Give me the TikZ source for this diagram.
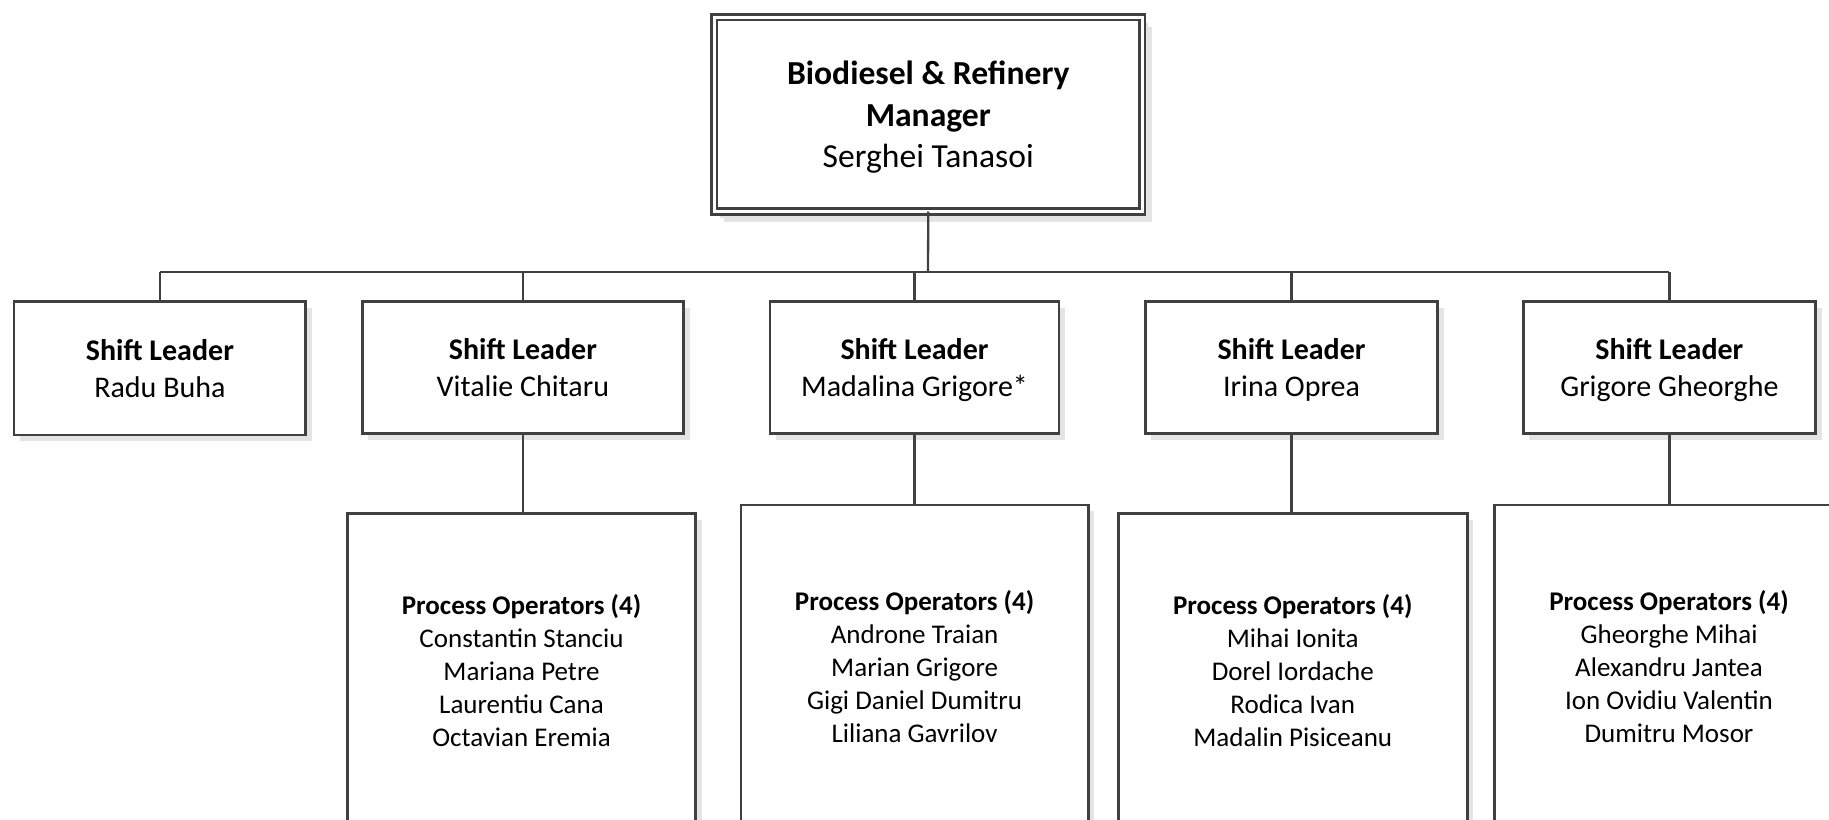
\documentclass[tikz,border=0pt]{standalone}
\usepackage{fontspec}
\setmainfont{Carlito}
\usetikzlibrary{shadows}
\definecolor{edge}{HTML}{404040}
\definecolor{shade}{HTML}{E4E4E4}

\begin{document}
\begin{tikzpicture}[x=0.5pt,y=-0.5pt,
  box/.style={draw=edge, line width=1.3pt, fill=white, align=center,
    inner sep=0pt, outer sep=0pt, text depth=0pt,
    general shadow={fill=shade, shadow xshift=3pt, shadow yshift=-3pt}},
  headbox/.style={box, double=white, double distance=1.4pt, line width=1.35pt,
    general shadow={fill=shade, shadow xshift=5pt, shadow yshift=-5pt},
    font=\fontsize{16.8pt}{20.75pt}\selectfont},
  leadbox/.style={box, minimum height=65.9pt,
    font=\fontsize{15pt}{18.75pt}\selectfont},
  crewbox/.style={box, font=\fontsize{13.5pt}{16.5pt}\selectfont},
  conn/.style={draw=edge, line width=1.15pt}]

\useasboundingbox (0,0) rectangle (1829,819);
\clip (0,0) rectangle (1829,819);
\fill[white] (0,0) rectangle (1829,819);

% manager
\node[headbox, minimum width=214pt, minimum height=97.1pt] (top) at (928.25,114.4)
  {\textbf{Biodiesel \& Refinery}\\\textbf{Manager}\\Serghei Tanasoi};

% shift leaders
\node[leadbox, minimum width=145.85pt, minimum height=66.65pt] (s1) at (159.9,368.3)
  {\textbf{Shift Leader}\\Radu Buha};
\node[leadbox, minimum width=160.6pt] (s2) at (522.9,367.6)
  {\textbf{Shift Leader}\\Vitalie Chitaru};
\node[leadbox, minimum width=144.55pt] (s3) at (914.5,367.6)
  {\textbf{Shift Leader}\\Madalina Grigore*};
\node[leadbox, minimum width=146.2pt] (s4) at (1291.5,367.6)
  {\textbf{Shift Leader}\\Irina Oprea};
\node[leadbox, minimum width=146.15pt] (s5) at (1669.35,367.6)
  {\textbf{Shift Leader}\\Grigore Gheorghe};

% process operator crews
\node[crewbox, minimum width=174.2pt, minimum height=157.25pt] (b2) at (521.5,670.75)
  {\textbf{Process Operators (4)}\\Constantin Stanciu\\Mariana Petre\\Laurentiu Cana\\Octavian Eremia};
\node[crewbox, minimum width=173.6pt, minimum height=161.5pt] (b3) at (914.6,666.5)
  {\textbf{Process Operators (4)}\\Androne Traian\\Marian Grigore\\Gigi Daniel Dumitru\\Liliana Gavrilov};
\node[crewbox, minimum width=174.45pt, minimum height=157.25pt] (b4) at (1292.75,670.75)
  {\textbf{Process Operators (4)}\\Mihai Ionita\\Dorel Iordache\\Rodica Ivan\\Madalin Pisiceanu};
\node[crewbox, minimum width=174.5pt, minimum height=161.5pt] (b5) at (1669,666.5)
  {\textbf{Process Operators (4)}\\Gheorghe Mihai\\Alexandru Jantea\\Ion Ovidiu Valentin\\Dumitru Mosor};

% connectors
\coordinate (bus) at (928,272);
\draw[conn] (top.south) -- (bus);
\draw[conn] (s1.north |- bus) -- (s5.north |- bus);
\foreach \i in {1,...,5} \draw[conn] (s\i.north |- bus) -- (s\i.north);
\foreach \i in {2,...,5} \draw[conn] (s\i.south) -- (s\i.south |- b\i.north);

\end{tikzpicture}
\end{document}
